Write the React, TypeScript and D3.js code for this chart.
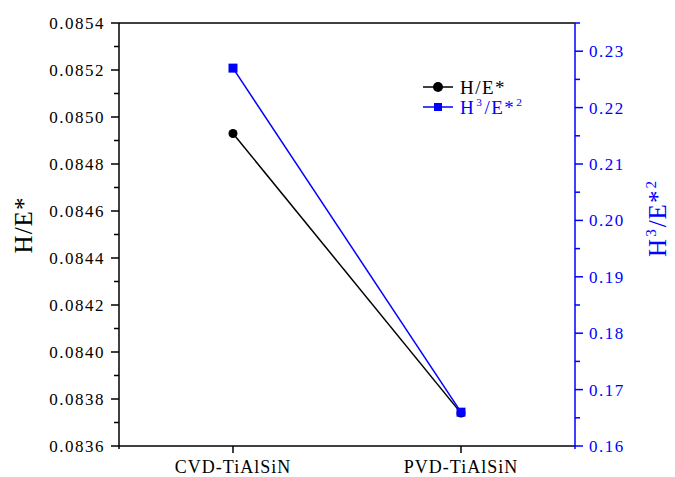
import React, { useRef, useEffect } from 'react';
import * as d3 from 'd3';

const categories = ['CVD-TiAlSiN', 'PVD-TiAlSiN'];
const hOverE = [0.08493, 0.08374];
const h3OverE2 = [0.2270, 0.1660];
const leftTicks = [0.0836, 0.0838, 0.0840, 0.0842, 0.0844, 0.0846, 0.0848, 0.0850, 0.0852, 0.0854];
const rightTicks = [0.16, 0.17, 0.18, 0.19, 0.20, 0.21, 0.22, 0.23];
const seriesNames = ['H/E*', 'H³/E*²'];

const BLUE = '#0000ff';
const FONT = 'Liberation Serif';

type Part = { t: string; sup?: boolean };
const h3Parts: Part[] = [{ t: 'H' }, { t: '3', sup: true }, { t: '/E*' }, { t: '2', sup: true }];

// draws text pieces one after another, superscripts as own small texts
function richText(parent: any, parts: Part[], size: number, fill: string, spacing: number, center: boolean) {
    const grp = parent.append('g').attr('fill', fill);
    let cx = 0;
    parts.forEach(p => {
        const fs = p.sup ? size * 0.6 : size;
        const t = grp.append('text').attr('x', cx).attr('y', p.sup ? -size * 0.4 : 0)
            .style('font-family', FONT).attr('font-size', fs).attr('letter-spacing', spacing)
            .text(p.t);
        cx += (t.node() as SVGTextElement).getComputedTextLength() + 1;
    });
    if (center) grp.attr('transform', `translate(${-cx / 2},0)`);
    return grp;
}

const App = () => {
    const ref = useRef<SVGSVGElement | null>(null);

    useEffect(() => {
        if (!ref.current) return;
        const svg = d3.select(ref.current);
        svg.selectAll('*').remove();

        const margin = { top: 23, right: 100, bottom: 31, left: 119 };
        const width = 675 - margin.left - margin.right;
        const height = 477 - margin.top - margin.bottom;

        const g = svg.append('g').attr('transform', `translate(${margin.left},${margin.top})`);

        const x = d3.scaleLinear().domain([0.5, 2.5]).range([0, width]);
        const yL = d3.scaleLinear().domain([0.0836, 0.0854]).range([height, 0]);
        const yR = d3.scaleLinear().domain([0.16, 0.235]).range([height, 0]);

        // frame
        g.append('line').attr('x1', 0).attr('x2', width).attr('y1', 0).attr('y2', 0)
            .attr('stroke', '#000').attr('stroke-width', 1.5);
        g.append('line').attr('x1', 0).attr('x2', width).attr('y1', height).attr('y2', height)
            .attr('stroke', '#000').attr('stroke-width', 1.5);

        // left axis
        const left = g.append('g');
        left.append('line').attr('x1', 0).attr('x2', 0).attr('y1', 0).attr('y2', height + 3)
            .attr('stroke', '#000').attr('stroke-width', 1.5);
        const leftMinor = d3.range(leftTicks.length - 1).map(i => (leftTicks[i] + leftTicks[i + 1]) / 2);
        left.selectAll('.maj').data(leftTicks).join('line').attr('class', 'maj')
            .attr('x1', -8).attr('x2', 0).attr('y1', d => yL(d)).attr('y2', d => yL(d))
            .attr('stroke', '#000').attr('stroke-width', 1.5);
        left.selectAll('.min').data(leftMinor).join('line').attr('class', 'min')
            .attr('x1', -5).attr('x2', 0).attr('y1', d => yL(d)).attr('y2', d => yL(d))
            .attr('stroke', '#000').attr('stroke-width', 1.5);
        left.selectAll('text').data(leftTicks).join('text')
            .attr('x', -14).attr('y', d => yL(d)).attr('dy', '0.35em')
            .attr('text-anchor', 'end').style('font-family', FONT).attr('font-size', 17)
            .attr('letter-spacing', 1.5)
            .text(d => d.toFixed(4));

        // right axis
        const right = g.append('g').attr('transform', `translate(${width},0)`);
        right.append('line').attr('x1', 0).attr('x2', 0).attr('y1', 0).attr('y2', height + 3)
            .attr('stroke', BLUE).attr('stroke-width', 1.5);
        const rightMinor = d3.range(rightTicks.length).map(i => rightTicks[i] + 0.005);
        right.selectAll('.maj').data(rightTicks).join('line').attr('class', 'maj')
            .attr('x1', 0).attr('x2', 8).attr('y1', d => yR(d)).attr('y2', d => yR(d))
            .attr('stroke', BLUE).attr('stroke-width', 1.5);
        right.selectAll('.min').data(rightMinor).join('line').attr('class', 'min')
            .attr('x1', 0).attr('x2', 5).attr('y1', d => yR(d)).attr('y2', d => yR(d))
            .attr('stroke', BLUE).attr('stroke-width', 1.5);
        right.selectAll('text').data(rightTicks).join('text')
            .attr('x', 14).attr('y', d => yR(d)).attr('dy', '0.35em')
            .attr('fill', BLUE).style('font-family', FONT).attr('font-size', 17)
            .attr('letter-spacing', 1.5)
            .text(d => d.toFixed(2));

        // bottom axis
        const bottom = g.append('g').attr('transform', `translate(0,${height})`);
        bottom.selectAll('line').data(categories).join('line')
            .attr('x1', (_, i) => x(i + 1)).attr('x2', (_, i) => x(i + 1))
            .attr('y1', 0).attr('y2', 7).attr('stroke', '#000').attr('stroke-width', 1.5);
        bottom.selectAll('text').data(categories).join('text')
            .attr('x', (_, i) => x(i + 1)).attr('y', 27)
            .attr('text-anchor', 'middle').style('font-family', FONT).attr('font-size', 18)
            .attr('letter-spacing', 1)
            .text(d => d);

        // axis titles
        svg.append('text')
            .attr('transform', `translate(32,225) rotate(-90)`)
            .attr('text-anchor', 'middle').style('font-family', FONT).attr('font-size', 25)
            .attr('letter-spacing', 1)
            .text(seriesNames[0]);
        const rtG = svg.append('g').attr('transform', `translate(666,218) rotate(-90)`);
        richText(rtG, h3Parts, 25, BLUE, 1, true);

        // series
        const lineL = d3.line<number>().x((_, i) => x(i + 1)).y(d => yL(d));
        const lineR = d3.line<number>().x((_, i) => x(i + 1)).y(d => yR(d));

        g.append('path').datum(hOverE).attr('d', lineL)
            .attr('fill', 'none').attr('stroke', '#000').attr('stroke-width', 1.5);
        g.append('path').datum(h3OverE2).attr('d', lineR)
            .attr('fill', 'none').attr('stroke', BLUE).attr('stroke-width', 1.5);

        g.selectAll('.pt').data(hOverE).join('circle').attr('class', 'pt')
            .attr('cx', (_, i) => x(i + 1)).attr('cy', d => yL(d)).attr('r', 4.5)
            .attr('fill', '#000');
        g.selectAll('.sq').data(h3OverE2).join('rect').attr('class', 'sq')
            .attr('x', (_, i) => x(i + 1) - 4.5).attr('y', d => yR(d) - 4.5)
            .attr('width', 9).attr('height', 9).attr('fill', BLUE);

        // legend
        const rowGap = 20;
        const lg = svg.append('g').attr('transform', 'translate(423,87)');
        lg.append('line').attr('x1', 0).attr('x2', 30).attr('y1', 0).attr('y2', 0)
            .attr('stroke', '#000').attr('stroke-width', 1.5);
        lg.append('circle').attr('cx', 15).attr('cy', 0).attr('r', 5).attr('fill', '#000');
        lg.append('text').attr('x', 37).attr('y', 0).attr('dy', '0.35em')
            .style('font-family', FONT).attr('font-size', 19).attr('letter-spacing', 1.5).text(seriesNames[0]);
        lg.append('line').attr('x1', 0).attr('x2', 30).attr('y1', rowGap).attr('y2', rowGap)
            .attr('stroke', BLUE).attr('stroke-width', 1.5);
        lg.append('rect').attr('x', 11).attr('y', rowGap - 4).attr('width', 8).attr('height', 8).attr('fill', BLUE);
        const ltG = lg.append('g').attr('transform', `translate(37,${rowGap + 7})`);
        richText(ltG, h3Parts, 19, BLUE, 1.5, false);
    }, []);

    return (
        <svg ref={ref} width={675} height={477}
            style={{ position: 'absolute', left: 0, top: 0, background: '#fff' }} />
    );
};

export default App;
